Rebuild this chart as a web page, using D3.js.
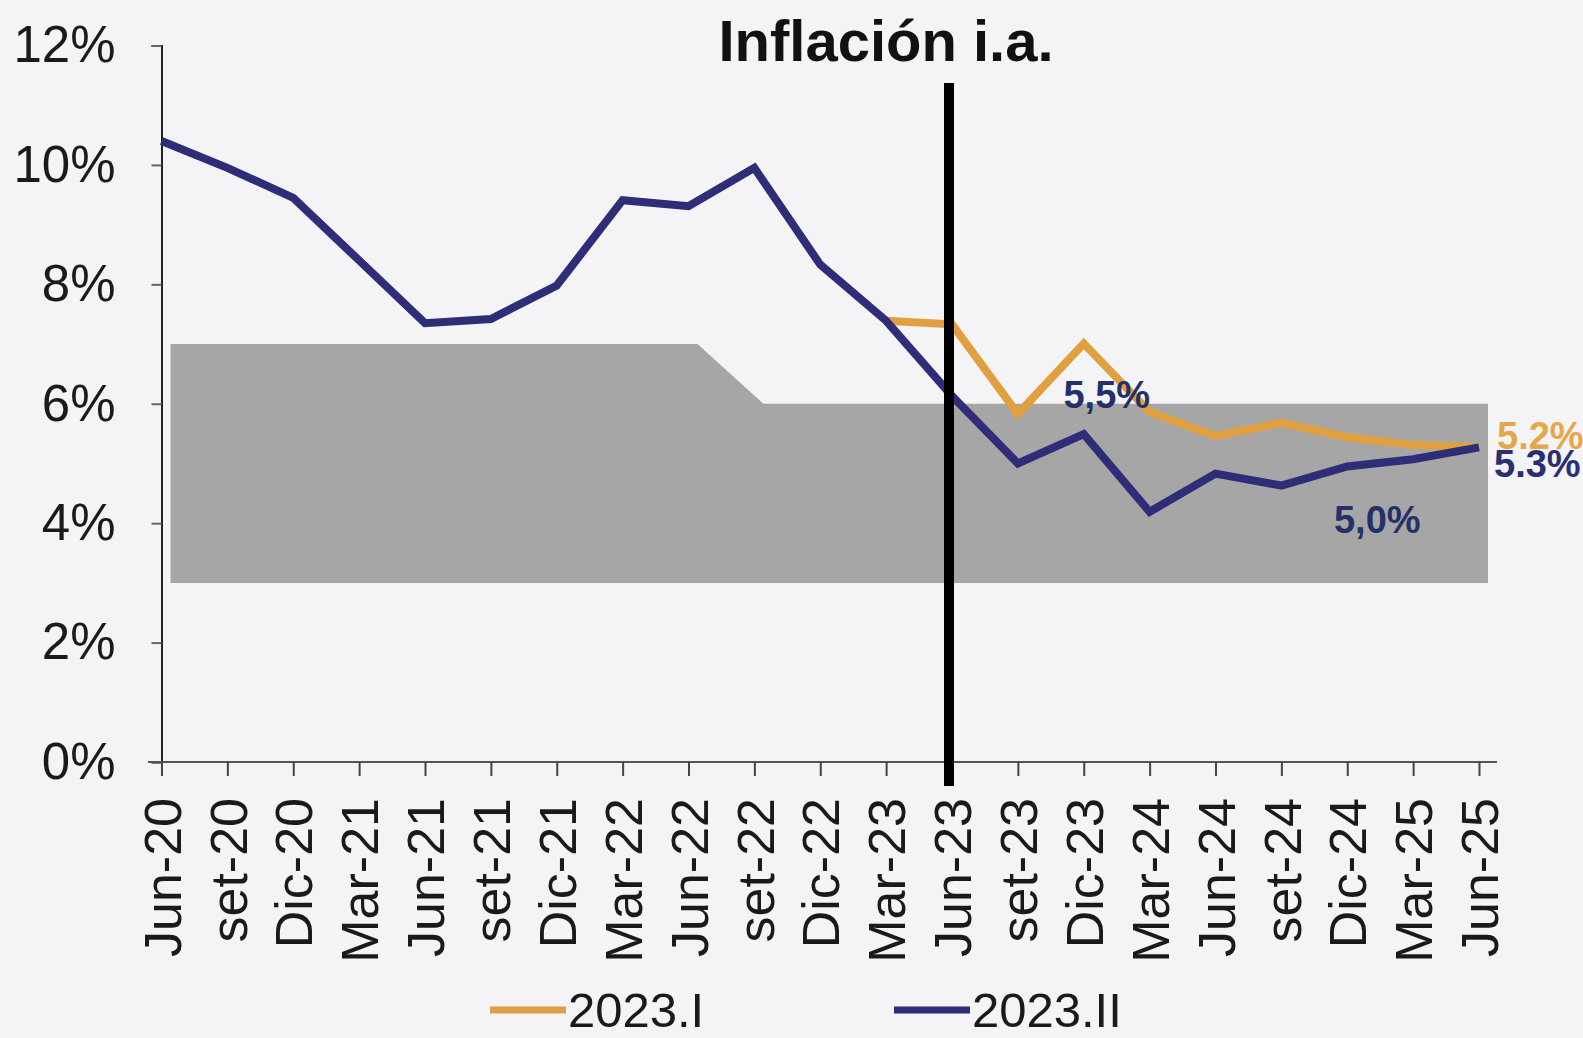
<!DOCTYPE html>
<html>
<head>
<meta charset="utf-8">
<script src="https://cdn.jsdelivr.net/npm/d3@7"></script>
<style>
  body { margin: 0; background: #f4f4f6; }
  svg { display: block; font-family: "Liberation Sans", Arial, sans-serif; }
</style>
</head>
<body>
<div id="vis"></div>
<script>
// categories (quarterly)
const months = ["Jun-20","set-20","Dic-20","Mar-21","Jun-21","set-21","Dic-21","Mar-22","Jun-22","set-22","Dic-22","Mar-23","Jun-23","set-23","Dic-23","Mar-24","Jun-24","set-24","Dic-24","Mar-25","Jun-25"];

// 2023.II report (full history + projection)
const serie2023II = [10.4, 9.95, 9.45, 8.4, 7.35, 7.42, 7.98, 9.41, 9.31, 9.95, 8.33, 7.39, 6.13, 5.0, 5.49, 4.19, 4.83, 4.63, 4.95, 5.07, 5.27];
// 2023.I report projection (from Mar-23)
const serie2023I = [null, null, null, null, null, null, null, null, null, null, null, 7.39, 7.33, 5.83, 7.01, 5.86, 5.46, 5.68, 5.44, 5.31, 5.27];

// target band
const bandUpper = [7, 7, 7, 7, 7, 7, 7, 7, 7, 6, 6, 6, 6, 6, 6, 6, 6, 6, 6, 6, 6];
const bandLower = [3, 3, 3, 3, 3, 3, 3, 3, 3, 3, 3, 3, 3, 3, 3, 3, 3, 3, 3, 3, 3];

const yTicks = [0, 2, 4, 6, 8, 10, 12];
const cutMonth = "Jun-23";

const labels = [
  {text: "5,5%", month: "Dic-23", value: 5.5, dx: 23, dy: -39, color: "#24306a", anchor: "middle"},
  {text: "5,0%", month: "Dic-24", value: 4.0, dx: 30, dy: -3, color: "#24306a", anchor: "middle"},
  {text: "5.2%", month: "Jun-25", value: 5.27, dx: 18, dy: -12, color: "#e4a84a", anchor: "start"},
  {text: "5.3%", month: "Jun-25", value: 5.27, dx: 15, dy: 16, color: "#2b2f72", anchor: "start"}
];

const width = 1583, height = 1038;
const colorI = "#e0a040", colorII = "#2d2d78";

const svg = d3.select("#vis").append("svg").attr("width", width).attr("height", height);
svg.append("rect").attr("width", width).attr("height", height).attr("fill", "#f4f4f6");

const x = d3.scalePoint().domain(months).range([161.5, 1479]);
const y = d3.scaleLinear().domain([0, 12]).range([762, 45.5]);

// band, slightly offset to the right like the original
const bandShift = 9;
const area = d3.area()
  .x(d => x(d.m) + bandShift)
  .y0(d => y(d.lo))
  .y1(d => y(d.hi));
svg.append("path")
  .datum(months.map((m, i) => ({m, hi: bandUpper[i], lo: bandLower[i]})))
  .attr("d", area)
  .attr("fill", "#a6a6a6");

// axes
const yAxis = svg.append("g").attr("transform", `translate(${x(months[0])},0)`)
  .call(d3.axisLeft(y).tickValues(yTicks).tickFormat(d => d + "%").tickSize(10).tickPadding(36));
yAxis.select(".domain").attr("stroke", "#222").attr("stroke-width", 2);
yAxis.selectAll(".tick line").attr("stroke", "#666").attr("stroke-width", 2);
yAxis.selectAll("text").attr("font-size", 51).attr("fill", "#1a1a1a");

const xAxis = svg.append("g").attr("transform", `translate(0,${y(0)})`)
  .call(d3.axisBottom(x).tickSize(14).tickSizeOuter(0));
xAxis.select(".domain").attr("d", `M148,0H1497`).attr("stroke", "#555").attr("stroke-width", 2);
xAxis.selectAll(".tick line").attr("stroke", "#444").attr("stroke-width", 2);
xAxis.selectAll("text")
  .attr("font-size", 52)
  .attr("fill", "#1a1a1a")
  .attr("transform", "rotate(-90)")
  .attr("text-anchor", "end")
  .attr("x", -36)
  .attr("y", 0)
  .attr("dy", "0.36em");

const line = d3.line()
  .defined(d => d.v !== null)
  .x(d => x(d.m))
  .y(d => y(d.v));

svg.append("path")
  .datum(months.map((m, i) => ({m, v: serie2023I[i]})))
  .attr("d", line)
  .attr("fill", "none")
  .attr("stroke", colorI)
  .attr("stroke-width", 8)
  .attr("stroke-linejoin", "miter");

svg.append("path")
  .datum(months.map((m, i) => ({m, v: serie2023II[i]})))
  .attr("d", line)
  .attr("fill", "none")
  .attr("stroke", colorII)
  .attr("stroke-width", 8)
  .attr("stroke-linejoin", "miter");

// vertical cut line
svg.append("line")
  .attr("x1", x(cutMonth) - 3).attr("x2", x(cutMonth) - 3)
  .attr("y1", 83).attr("y2", y(0) + 24)
  .attr("stroke", "#000").attr("stroke-width", 10);

// title
svg.append("text")
  .attr("x", 886).attr("y", 61)
  .attr("text-anchor", "middle")
  .attr("font-size", 58).attr("font-weight", "bold")
  .attr("fill", "#111")
  .text("Inflación i.a.");

// value labels
svg.selectAll("text.lbl").data(labels).enter().append("text")
  .attr("class", "lbl")
  .attr("x", d => x(d.month) + d.dx)
  .attr("y", d => y(d.value) + d.dy)
  .attr("dy", "0.35em")
  .attr("text-anchor", d => d.anchor)
  .attr("font-size", 38).attr("font-weight", "bold")
  .attr("fill", d => d.color)
  .text(d => d.text);

// legend
const legend = [{name: "2023.I", color: colorI, x: 490}, {name: "2023.II", color: colorII, x: 894}];
const lg = svg.selectAll("g.leg").data(legend).enter().append("g")
  .attr("transform", d => `translate(${d.x},1010)`);
lg.append("line").attr("x1", 0).attr("x2", 76).attr("stroke", d => d.color).attr("stroke-width", 7);
lg.append("text").attr("x", 78).attr("dy", "0.34em")
  .attr("font-size", 49).attr("fill", "#1a1a1a")
  .text(d => d.name);
</script>
</body>
</html>
